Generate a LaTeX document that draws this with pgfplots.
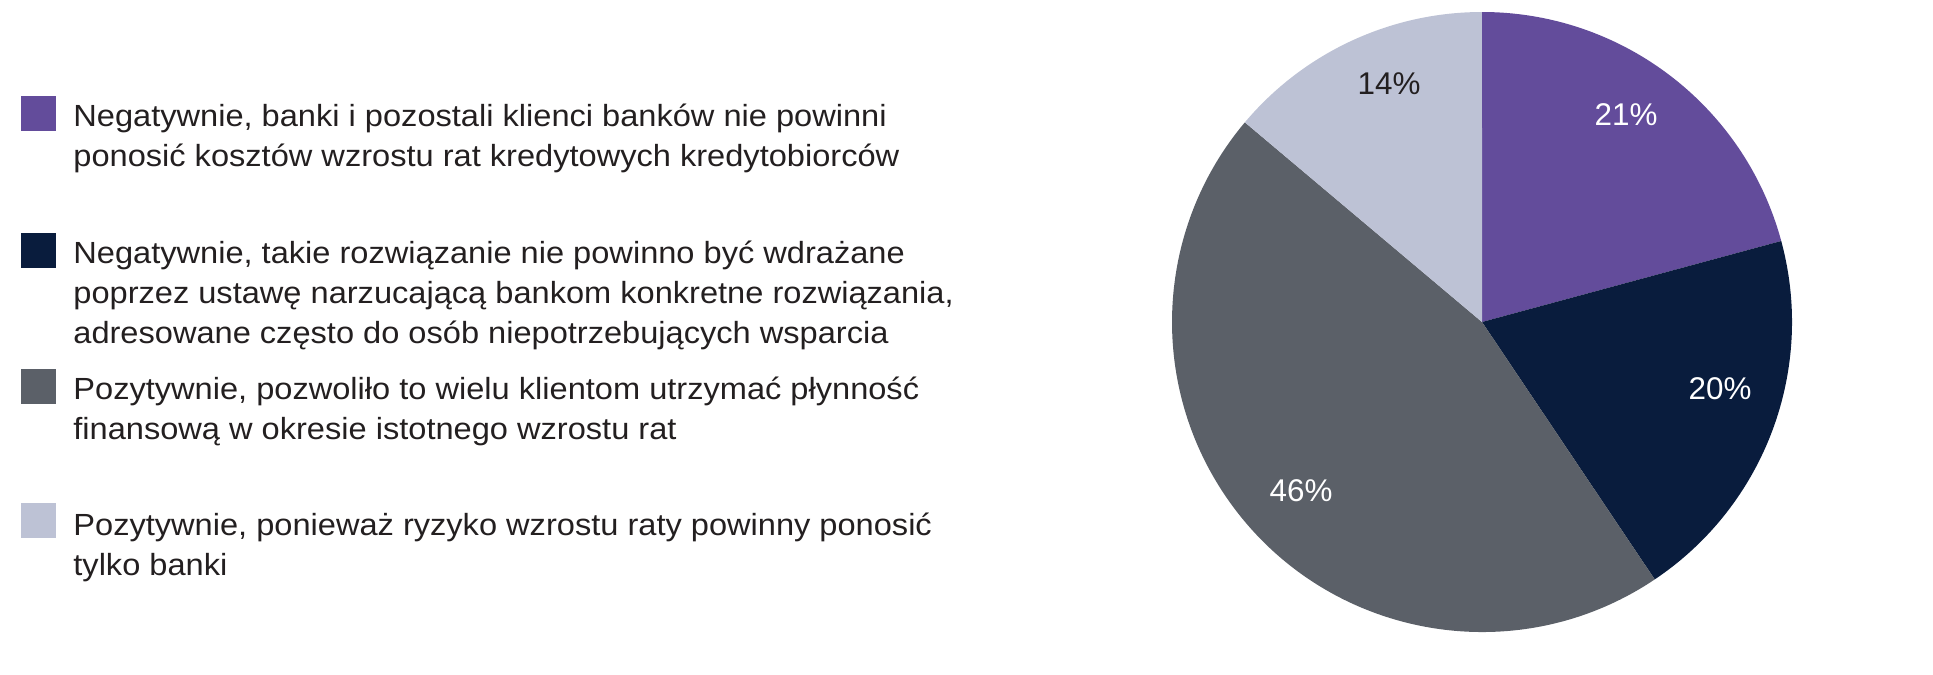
\documentclass[border=0pt]{standalone}
\usepackage{pgfplots}
\pgfplotsset{compat=1.18}
\usepackage{fontspec}
\setmainfont{Liberation Sans}
\newfontfamily\legendfont[FakeStretch=1.065]{Liberation Sans}

\definecolor{cPurple}{RGB}{99,76,155}
\definecolor{cNavy}{RGB}{9,28,61}
\definecolor{cGray}{RGB}{91,96,104}
\definecolor{cLight}{RGB}{189,194,213}
\definecolor{cText}{RGB}{35,31,32}

% shares in per cent, clockwise from 12 o'clock
\def\vA{21}
\def\vB{20}
\def\vC{46}
\def\vD{14}
\pgfmathsetmacro\tot{\vA+\vB+\vC+\vD}
\pgfmathsetmacro\aA{90}
\pgfmathsetmacro\aB{\aA-360*(\vA/\tot)}
\pgfmathsetmacro\aC{\aB-360*(\vB/\tot)}
\pgfmathsetmacro\aD{\aC-360*(\vC/\tot)}
\pgfmathsetmacro\aE{\aD-360*(\vD/\tot)}

\begin{document}
\begin{tikzpicture}
\begin{axis}[
    scale only axis,
    width=966.5pt, height=325pt,
    xmin=0, xmax=1933, ymin=0, ymax=650,
    y dir=reverse,
    hide axis, clip=false,
]
\path (rel axis cs:0,0) rectangle (rel axis cs:1,1);
% pie, centre (1482,322), radius 310 units = 155pt
\fill[cPurple] (axis cs:1482,322) -- ++(\aA:155pt) arc[start angle=\aA, end angle=\aB, radius=155pt] -- cycle;
\fill[cNavy]   (axis cs:1482,322) -- ++(\aB:155pt) arc[start angle=\aB, end angle=\aC, radius=155pt] -- cycle;
\fill[cGray]   (axis cs:1482,322) -- ++(\aC:155pt) arc[start angle=\aC, end angle=\aD, radius=155pt] -- cycle;
\fill[cLight]  (axis cs:1482,322) -- ++(\aD:155pt) arc[start angle=\aD, end angle=\aE, radius=155pt] -- cycle;

\begin{scope}[font=\fontsize{15.7pt}{18pt}\selectfont, inner sep=0pt]
\node[white] at (axis cs:1626,115) {21\%};
\node[white] at (axis cs:1720,389) {20\%};
\node[white] at (axis cs:1301,491) {46\%};
\node[cText] at (axis cs:1389,84) {14\%};
\end{scope}

% legend
\fill[cPurple] (axis cs:21,96) rectangle (axis cs:56,130.5);
\fill[cNavy]   (axis cs:21,233.3) rectangle (axis cs:56,267.7);
\fill[cGray]   (axis cs:21,369.3) rectangle (axis cs:56,403.7);
\fill[cLight]  (axis cs:21,503.3) rectangle (axis cs:56,537.7);

\begin{scope}[font=\legendfont\fontsize{15.3pt}{20pt}\selectfont, inner sep=0pt, text=cText, anchor=base west]
\node at (axis cs:73,126.5) {Negatywnie, banki i pozostali klienci banków nie powinni};
\node at (axis cs:73,166.5) {ponosić kosztów wzrostu rat kredytowych kredytobiorców};
\node at (axis cs:73,263.3) {Negatywnie, takie rozwiązanie nie powinno być wdrażane};
\node at (axis cs:73,303.3) {poprzez ustawę narzucającą bankom konkretne rozwiązania,};
\node at (axis cs:73,343.3) {adresowane często do osób niepotrzebujących wsparcia};
\node at (axis cs:73,399) {Pozytywnie, pozwoliło to wielu klientom utrzymać płynność};
\node at (axis cs:73,439) {finansową w okresie istotnego wzrostu rat};
\node at (axis cs:73,535) {Pozytywnie, ponieważ ryzyko wzrostu raty powinny ponosić};
\node at (axis cs:73,575) {tylko banki};
\end{scope}
\end{axis}
\end{tikzpicture}
\end{document}
